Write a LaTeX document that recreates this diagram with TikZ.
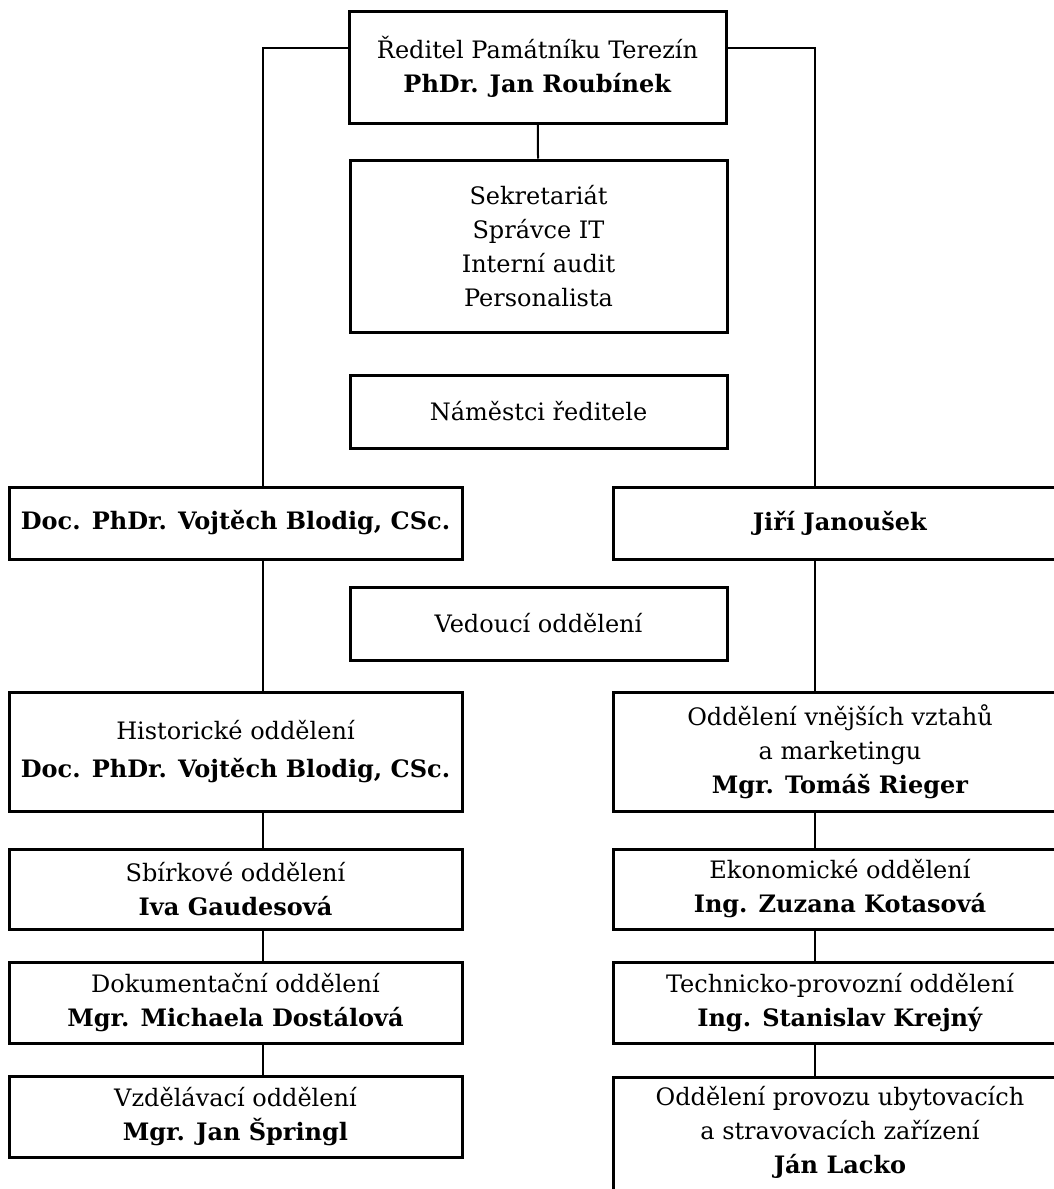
\documentclass[tikz,border=0pt]{standalone}
\usepackage{fontspec}
\setmainfont{DejaVu Serif}
\usetikzlibrary{positioning}

\begin{document}
\begin{tikzpicture}[x=0.5pt, y=-0.5pt,
    every node/.style={font=\fontsize{12}{17}\selectfont, align=center, inner sep=0pt},
    unitbox/.style={draw, line width=1.5pt, minimum width=188.5pt},
    deptbox/.style={draw, line width=1.5pt, minimum width=226.5pt},
    link/.style={line width=1pt}]
            \useasboundingbox (0,0) rectangle (1054,1189);
            \clip (0,0) rectangle (1054,1189);
            % middle column
            \node[unitbox, minimum height=56pt] (dir) at (537.5,67) {Ředitel Památníku Terezín\\ \textbf{PhDr. Jan Roubínek}};
            \node[unitbox, minimum height=86pt] (sek) at (538.5,246) {Sekretariát\\ Správce IT\\ Interní audit\\ Personalista};
            \node[unitbox, minimum height=36.5pt] (nam) at (538.5,411.5) {Náměstci ředitele};
            \node[unitbox, minimum height=36.5pt] (ved) at (538.5,623.5) {Vedoucí oddělení};
            % deputies
            \node[deptbox, minimum height=36pt] (blodig) at (235.5,523) {\textbf{Doc. PhDr. Vojtěch Blodig, CSc.}};
            \node[deptbox, minimum height=36pt] (janousek) at (840,523) {\textbf{Jiří Janoušek}};
            % left column
            \node[deptbox, minimum height=59.5pt] (hist) at (235.5,751.5) {Historické oddělení\\[2pt] \textbf{Doc. PhDr. Vojtěch Blodig, CSc.}};
            \node[deptbox, minimum height=40pt] (sbirk) at (235.5,889) {Sbírkové oddělení\\ \textbf{Iva Gaudesová}};
            \node[deptbox, minimum height=40.5pt] (dok) at (235.5,1002.5) {Dokumentační oddělení\\ \textbf{Mgr. Michaela Dostálová}};
            \node[deptbox, minimum height=40.5pt] (vzdel) at (235.5,1116.5) {Vzdělávací oddělení\\ \textbf{Mgr. Jan Špringl}};
            % right column
            \node[deptbox, minimum height=59.5pt] (vnejsi) at (840,751.5) {Oddělení vnějších vztahů\\ a marketingu\\ \textbf{Mgr. Tomáš Rieger}};
            \node[deptbox, minimum height=40pt] (ekon) at (840,889) {Ekonomické oddělení\\ \textbf{Ing. Zuzana Kotasová}};
            \node[deptbox, minimum height=40.5pt] (tech) at (840,1002.5) {Technicko-provozní oddělení\\ \textbf{Ing. Stanislav Krejný}};
            \node[deptbox, minimum height=70pt, anchor=north] (ubyt) at (840,1076) {};
            \node[below=5pt of ubyt.north] (ubyttext) {Oddělení provozu ubytovacích\\ a stravovacích zařízení\\ \textbf{Ján Lacko}};
            % lines
            \coordinate (lx) at (263,0);
            \coordinate (rx) at (815,0);
            \draw[link] (dir) -- (sek);
            \draw[link] ([yshift=9.5pt]dir.west) -| (blodig.north -| lx);
            \draw[link] ([yshift=9.5pt]dir.east) -| (janousek.north -| rx);
            \foreach \a/\b in {blodig/hist, hist/sbirk, sbirk/dok, dok/vzdel}
                \draw[link] (\a.south -| lx) -- (\b.north -| lx);
            \foreach \a/\b in {janousek/vnejsi, vnejsi/ekon, ekon/tech, tech/ubyt}
                \draw[link] (\a.south -| rx) -- (\b.north -| rx);
        \end{tikzpicture}
\end{document}
